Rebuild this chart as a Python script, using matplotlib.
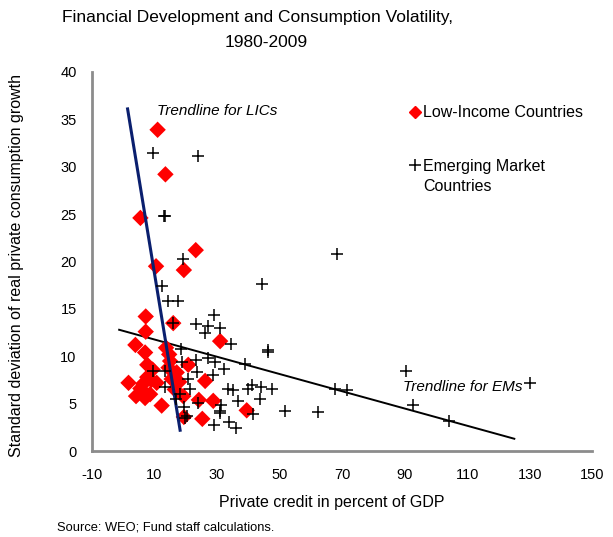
import matplotlib
matplotlib.use("Agg")
import matplotlib.pyplot as plt
from matplotlib.lines import Line2D

# Low-income countries: private credit (% of GDP), std dev of consumption growth
lic_credit = [11.0, 13.5, 5.5, 23.2, 10.5, 19.4, 7.2, 16.0, 7.2, 31.0,
              3.9, 13.7, 7.0, 14.7, 15.0, 7.7, 20.8, 9.4, 14.5, 17.1,
              1.7, 6.4, 7.7, 10.7, 17.9, 26.2, 4.1, 7.0, 8.6, 5.5,
              12.3, 19.2, 24.2, 28.8, 39.5, 19.4, 25.3, 15.5, 9.0, 16.5]
lic_vol = [33.9, 29.2, 24.6, 21.2, 19.5, 19.1, 14.2, 13.5, 12.6, 11.6,
           11.2, 10.9, 10.4, 10.2, 9.5, 9.1, 9.1, 8.6, 8.8, 8.3,
           7.2, 7.1, 7.8, 7.2, 7.3, 7.4, 5.8, 5.6, 6.0, 6.6,
           4.8, 5.8, 5.4, 5.3, 4.3, 3.6, 3.4, 7.6, 7.5, 6.5]

# Emerging market countries
em_credit = [9.4, 23.8, 13.0, 13.4, 19.2, 12.3, 14.2, 17.6, 68.5, 44.3,
             16.0, 29.0, 23.3, 27.0, 26.2, 31.0, 34.4, 46.2, 46.4, 27.2,
             29.4, 23.3, 39.0, 32.3, 23.5, 28.6, 18.4, 18.7, 9.6, 13.4,
             13.4, 16.9, 18.2, 20.8, 21.4, 33.6, 35.2, 40.0, 41.1, 44.1,
             47.5, 43.8, 19.4, 23.8, 31.2, 36.8, 30.8, 31.0, 41.6, 20.3,
             19.8, 29.1, 33.9, 36.0, 90.4, 130.0, 92.8, 104.2, 67.8, 71.7,
             51.8, 62.2]
em_vol = [31.4, 31.1, 24.8, 24.8, 20.3, 17.4, 15.8, 15.8, 20.8, 17.6,
          13.5, 14.4, 13.4, 13.2, 12.5, 13.0, 11.3, 10.7, 10.5, 9.8,
          9.4, 9.6, 9.2, 8.7, 8.3, 8.0, 10.8, 9.4, 8.5, 8.4,
          6.8, 5.5, 6.0, 7.6, 6.5, 6.5, 6.4, 6.5, 7.0, 6.8,
          6.6, 5.5, 4.7, 5.1, 4.9, 5.3, 4.2, 4.0, 3.9, 3.7,
          3.5, 2.8, 3.1, 2.4, 8.5, 7.2, 4.9, 3.2, 6.5, 6.4,
          4.2, 4.1]

# trendline end points
lic_trend_x = [1.4, 18.2]
lic_trend_y = [36.1, 2.2]
em_trend_x = [-1.3, 125.1]
em_trend_y = [12.8, 1.3]

x_ticks = [-10, 10, 30, 50, 70, 90, 110, 130, 150]
y_ticks = [0, 5, 10, 15, 20, 25, 30, 35, 40]

plt.rcParams['font.family'] = ['Liberation Sans', 'DejaVu Sans']
plt.rcParams['axes.unicode_minus'] = False

fig = plt.figure(figsize=(6.13, 5.37), dpi=100)
ax = fig.add_axes([0.150, 0.160, 0.816, 0.706])

ax.plot(lic_trend_x, lic_trend_y, color='#0a1f6e', lw=2.2, zorder=3)
ax.plot(em_trend_x, em_trend_y, color='black', lw=1.4, zorder=1)
ax.scatter(lic_credit, lic_vol, marker='D', s=70, color='red',
           edgecolors='none', zorder=2)
ax.scatter(em_credit, em_vol, marker='+', s=80, color='black',
           linewidths=1.1, zorder=4)

ax.text(10.8, 35.9, 'Trendline for LICs', style='italic', fontsize=11,
        va='center', ha='left')
ax.text(89.5, 6.8, 'Trendline for EMs', style='italic', fontsize=11,
        va='center', ha='left')

# legend: two pieces so the plus sits on the first line of its label
lic_handle = Line2D([], [], marker='D', ls='none', color='red', markersize=6)
em_handle = Line2D([], [], marker='+', ls='none', color='black',
                   markersize=9, markeredgewidth=1.1)
blank = Line2D([], [], ls='none')
leg_opts = dict(frameon=False, fontsize=11.5, handlelength=0.6,
                handletextpad=0.2, borderpad=0, borderaxespad=0,
                bbox_transform=ax.transData)
leg1 = ax.legend([lic_handle], ['Low-Income Countries'], loc='center left',
                 bbox_to_anchor=(91.9, 35.7), **leg_opts)
ax.add_artist(leg1)
ax.legend([em_handle, blank], ['Emerging Market', 'Countries'],
          loc='center left', bbox_to_anchor=(91.9, 29.0),
          labelspacing=0.32, **leg_opts)

ax.set_xlim(-10, 150)
ax.set_ylim(0, 40)
ax.set_xticks(x_ticks)
ax.set_yticks(y_ticks)
ax.tick_params(length=0, labelsize=10.5)
ax.tick_params(axis='y', pad=11)
ax.tick_params(axis='x', pad=12)
for side in ['top', 'right']:
    ax.spines[side].set_visible(False)
for side in ['left', 'bottom']:
    ax.spines[side].set_color('#8c8c8c')
    ax.spines[side].set_linewidth(2)

ax.set_xlabel('Private credit in percent of GDP', fontsize=11.5)
ax.xaxis.set_label_coords(0.48, -0.115)
ax.set_ylabel('Standard deviation of real private consumption growth',
              fontsize=11.5)
ax.yaxis.set_label_coords(-0.135, 0.49)

# title in two centred lines (second line sits a little right of the first)
fig.text(0.42, 0.968, 'Financial Development and Consumption Volatility,',
         ha='center', va='center', fontsize=12.5)
fig.text(0.435, 0.920, '1980-2009', ha='center', va='center', fontsize=12.5)
fig.text(0.093, 0.006, 'Source: WEO; Fund staff calculations.', fontsize=9.3,
         ha='left', va='bottom')

fig.savefig('out.png', dpi=100)
